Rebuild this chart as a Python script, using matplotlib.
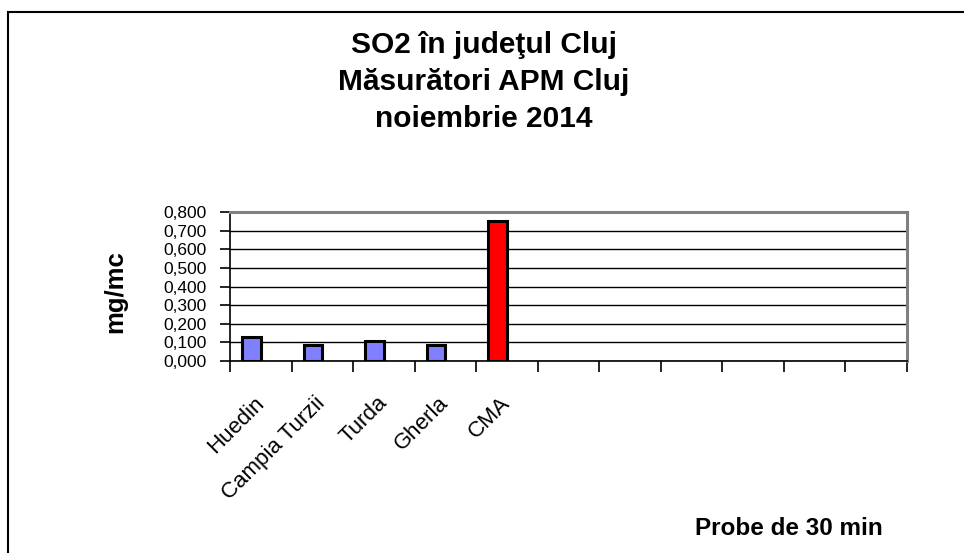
import numpy as np
import matplotlib
matplotlib.use("Agg")
import matplotlib.pyplot as plt
from matplotlib.patches import Rectangle
from matplotlib.ticker import FuncFormatter, MultipleLocator

# data
categories = ["Huedin", "Campia Turzii", "Turda", "Gherla", "CMA"]
so2_values = [0.127, 0.088, 0.109, 0.088, 0.753]
bar_colors = ["#8080FF", "#8080FF", "#8080FF", "#8080FF", "#FF0000"]
n_slots = 11  # empty categories to the right, as in the source sheet

title_lines = ["SO2 în judeţul Cluj", "Măsurători APM Cluj", "noiembrie 2014"]
y_label = "mg/mc"
note = "Probe de 30 min"

plt.rcParams.update({
    "font.family": ["Liberation Sans", "DejaVu Sans"],
    "axes.linewidth": 1.0,
})

W, H = 964, 553
fig = plt.figure(figsize=(W / 100, H / 100), dpi=100)
ax = fig.add_axes([230 / W, 1 - 361 / H, (907 - 230) / W, (361 - 212) / H])

x = np.arange(len(categories))
ax.bar(x - 0.15, so2_values, width=0.3, color=bar_colors,
       edgecolor="black", linewidth=2.2, zorder=3)

ax.set_xlim(-0.5, n_slots - 0.5)
ax.set_ylim(0, 0.8)

# category boundaries carry the tick marks, labels sit at centres
ax.set_xticks(np.arange(n_slots + 1) - 0.5, minor=True)
ax.set_xticks(x)
ax.set_xticklabels(categories, rotation=45, ha="right", va="center",
                   rotation_mode="anchor", fontsize=16)
ax.tick_params(axis="x", which="major", length=0, pad=28)
ax.tick_params(axis="x", which="minor", length=8, width=1.2, direction="out")

ax.yaxis.set_major_locator(MultipleLocator(0.1))
ax.yaxis.set_major_formatter(FuncFormatter(lambda v, p: f"{v:.3f}".replace(".", ",")))
ax.tick_params(axis="y", length=7, width=1.2, direction="out", labelsize=12.5, pad=10)

ax.grid(axis="y", color="black", linewidth=1.0, zorder=0)
ax.set_axisbelow(True)

for side in ["top", "right"]:
    ax.spines[side].set_color("#808080")
    ax.spines[side].set_linewidth(2.2)
for side in ["left", "bottom"]:
    ax.spines[side].set_color("black")
    ax.spines[side].set_linewidth(1.2)

# title, one text per line
baselines = [53, 90, 127]
for line, yb in zip(title_lines, baselines):
    fig.text(484 / W, 1 - yb / H, line, ha="center", va="baseline",
             fontsize=21.5, fontweight="bold")

fig.text(115 / W, 1 - 292 / H, y_label, rotation=90, ha="center", va="center",
         fontsize=18.5, fontweight="bold")
fig.text(695 / W, 1 - 535 / H, note, ha="left", va="baseline",
         fontsize=17.5, fontweight="bold")

# outer chart border, running off the right and bottom edges
fig.add_artist(Rectangle((8 / W, -0.2), 1.2, 1 - 12 / H + 0.2,
                         transform=fig.transFigure, fill=False,
                         edgecolor="black", linewidth=1.5, clip_on=False))

fig.savefig("out.png", dpi=100)
